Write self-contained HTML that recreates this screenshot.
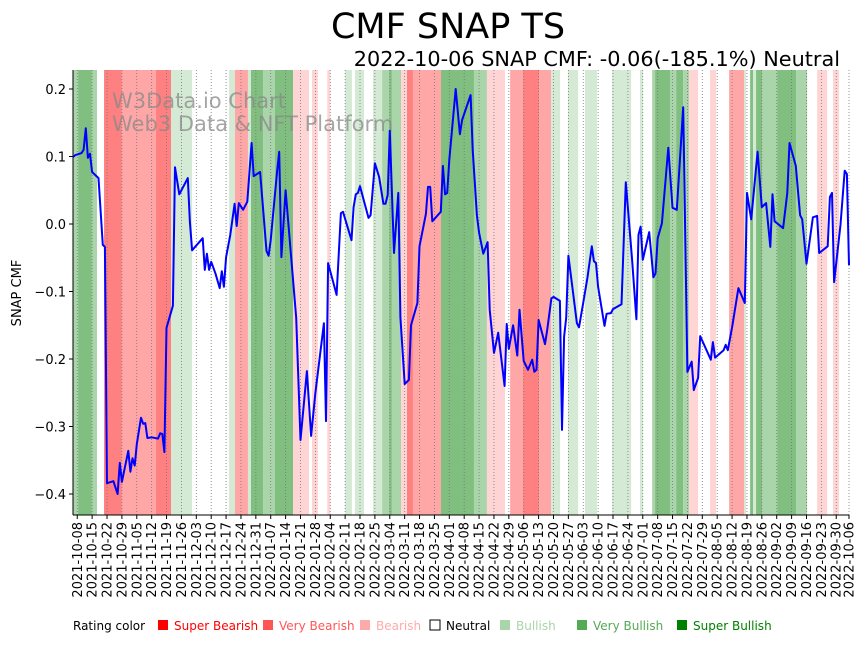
<!DOCTYPE html>
<html><head><meta charset="utf-8"><style>
body{margin:0;background:#fff;font-family:"Liberation Sans","DejaVu Sans",sans-serif}
svg text{font-family:"DejaVu Sans","Liberation Sans",sans-serif}
</style></head><body>
<svg id="c" width="867" height="641" xmlns="http://www.w3.org/2000/svg"></svg>
<script>
const dayOffsets=[0,1,4,5,6,7,8,9,12,14,15,16,19,21,22,23,26,27,28,29,30,32,33,34,35,37,40,41,42,43,44,47,48,50,54,55,56,61,62,63,64,65,67,69,70,71,72,74,76,77,78,80,82,84,85,88,91,92,93,96,97,98,100,105,107,110,112,114,118,119,120,124,126,127,131,132,133,134,135,139,140,142,144,146,147,148,149,151,153,154,156,158,159,162,163,166,167,168,169,173,174,175,176,177,180,182,183,187,188,190,191,193,195,196,198,200,203,204,205,207,209,210,212,214,216,217,218,219,222,223,225,226,229,230,231,232,233,237,238,240,242,244,245,246,247,250,251,253,254,258,260,263,265,266,267,268,271,273,274,275,277,280,282,284,287,289,291,292,294,295,300,301,302,306,307,308,310,313,316,317,319,322,324,326,328,329,330,334,336,337,340,342,343,345,348,350,351,355,356,357,358,361,363,364,365];
const cmfValues=[0.099,0.102,0.105,0.110,0.142,0.098,0.104,0.077,0.068,-0.031,-0.034,-0.384,-0.381,-0.400,-0.354,-0.382,-0.336,-0.367,-0.347,-0.358,-0.326,-0.287,-0.296,-0.295,-0.317,-0.316,-0.318,-0.310,-0.311,-0.338,-0.154,-0.121,0.084,0.044,0.068,0.003,-0.039,-0.021,-0.068,-0.044,-0.068,-0.056,-0.073,-0.095,-0.070,-0.093,-0.049,-0.016,0.030,-0.003,0.031,0.021,0.033,0.120,0.071,0.077,-0.040,-0.047,-0.024,0.078,0.107,-0.049,0.050,-0.139,-0.320,-0.218,-0.314,-0.250,-0.147,-0.292,-0.058,-0.105,0.016,0.018,-0.024,0.025,0.044,0.046,0.056,0.009,0.013,0.090,0.070,0.030,0.030,0.043,0.138,-0.043,0.046,-0.138,-0.237,-0.231,-0.150,-0.117,-0.033,0.015,0.055,0.055,0.004,0.018,0.086,0.044,0.046,0.095,0.200,0.133,0.154,0.191,0.110,0.013,-0.013,-0.044,-0.027,-0.127,-0.191,-0.161,-0.240,-0.148,-0.185,-0.150,-0.195,-0.127,-0.203,-0.216,-0.201,-0.219,-0.216,-0.142,-0.178,-0.158,-0.110,-0.108,-0.114,-0.305,-0.167,-0.139,-0.047,-0.147,-0.153,-0.117,-0.079,-0.033,-0.055,-0.058,-0.093,-0.151,-0.133,-0.132,-0.126,-0.119,0.062,-0.053,-0.141,-0.016,-0.004,-0.053,-0.012,-0.079,-0.073,-0.021,0.001,0.113,0.024,0.021,0.173,-0.219,-0.204,-0.246,-0.228,-0.166,-0.201,-0.175,-0.198,-0.187,-0.179,-0.187,-0.153,-0.095,-0.117,0.046,0.007,0.107,0.025,0.031,-0.034,0.044,0.004,-0.006,0.046,0.120,0.086,0.013,0.007,-0.059,0.010,0.012,-0.043,-0.033,0.040,0.046,-0.086,-0.001,0.079,0.074,-0.061];
const bandStart=[0,2.4,8.9,14.6,23,39,46.1,73.4,76.2,82.3,83.7,89.4,95,103.5,112.4,119.6,128,132.6,141.1,145.4,148.7,150,154.3,157.1,159.9,173.1,188.6,194.7,205.6,211.7,219.2,224.9,232.8,240.8,253.5,266.7,272.4,273.8,280.8,283.7,287,289.8,299.6,308.6,315.7,318.5,319.9,321.3,324.1,331.2,340.1,350,357.5];
const bandEnd=[2.4,8.9,11.3,23,39,46.1,56,76.2,82.3,83.7,89.4,95,103.5,111,115.2,121,131.2,136.9,145.4,148.7,150,154.3,157.1,159.9,173.1,188.6,194.7,203.2,211.7,219.2,224.9,229.1,237.6,246.5,262.5,268.1,273.8,280.8,283.7,287,289.8,294,302.5,315.7,316.6,319.9,321.3,324.1,331.2,340.1,345.3,354.7,360.3];
const bandLevel=[2,3,2,-3,-2,-3,1,1,-2,1,3,2,3,-1,-1,-1,1,1,1,2,3,2,-1,-3,-2,3,2,-1,-2,-3,-2,1,1,1,1,1,2,3,2,3,2,-1,-1,-2,1,3,1,3,2,3,2,-1,-1];
const yTicks=[0.2,0.1,0.0,-0.1,-0.2,-0.3,-0.4];
const yTickLabels=["0.2","0.1","0.0","−0.1","−0.2","−0.3","−0.4"];
const startDate="2021-10-06", firstTickDay=2, lastDay=365;

const L=73,R=849,T=70,B=515;
const x=d=>L+d*(R-L)/lastDay;
const y=v=>224-v*675;
const svg=document.getElementById('c');
const NS='http://www.w3.org/2000/svg';
function mk(tag,attrs,parent){const e=document.createElementNS(NS,tag);for(const k in attrs)e.setAttribute(k,attrs[k]);(parent||svg).appendChild(e);return e;}
const colors={'-3':'#ff8080','-2':'#ffa6a6','-1':'#ffd4d4','1':'#d5ead5','2':'#aad4aa','3':'#80bf80'};
const gb=mk('g',{});


bandStart.forEach((s,i)=>{
  const r=mk('rect',{x:x(s),y:T,width:x(bandEnd[i])-x(s),height:B-T,fill:colors[bandLevel[i]]},gb);
  
  
});
function fmt(d){const t=new Date(startDate+'T00:00:00Z');t.setUTCDate(t.getUTCDate()+d);return t.toISOString().slice(0,10);}
const tickDays=[];for(let d=firstTickDay;d<lastDay-3;d+=7)tickDays.push(d);tickDays.push(lastDay);
const gx=mk('g',{});


tickDays.forEach(d=>{
  const X=x(d);
  const gl=mk('line',{x1:X,x2:X,y1:T,y2:B,stroke:'#777','stroke-width':0.8,'stroke-dasharray':'1,2'},gx);
  
  
  mk('line',{x1:X,x2:X,y1:B,y2:B+4,stroke:'#000','stroke-width':1},gx);
  const t=mk('text',{x:0,y:0,transform:`translate(${X+4.5},${B+7}) rotate(-90)`,'text-anchor':'end','font-size':'13'},gx);
  t.textContent=fmt(d);
  
  
});
const gy=mk('g',{});


yTicks.forEach((v,i)=>{
  mk('line',{x1:L-4,x2:L,y1:y(v),y2:y(v),stroke:'#000'},gy);
  const t=mk('text',{x:L-7,y:y(v)+5,'text-anchor':'end','font-size':'13'},gy);
  t.textContent=yTickLabels[i];
  
  
});
mk('line',{x1:L,x2:L,y1:T,y2:B,stroke:'#000','stroke-width':1});
mk('line',{x1:L,x2:R,y1:B,y2:B,stroke:'#000','stroke-width':1});
const yl=mk('text',{x:0,y:0,transform:'translate(21,293) rotate(-90)','text-anchor':'middle','font-size':'13'});
yl.textContent='SNAP CMF';


const w1=mk('text',{x:112,y:108,'font-size':'21',fill:'#888','fill-opacity':'0.75'});w1.textContent='W3Data.io Chart';


const w2=mk('text',{x:112,y:131,'font-size':'21',fill:'#888','fill-opacity':'0.75'});w2.textContent='Web3 Data & NFT Platform';


const pts=dayOffsets.map((d,i)=>x(d).toFixed(1)+','+y(cmfValues[i]).toFixed(1)).join(' ');
const pl=mk('polyline',{points:pts,fill:'none',stroke:'#0000ff','stroke-width':2,'stroke-linejoin':'round'});


const t1=mk('text',{x:448,y:38,'text-anchor':'middle','font-size':'35'});t1.textContent='CMF SNAP TS';


const t2=mk('text',{x:840,y:66,'text-anchor':'end','font-size':'20.8'});t2.textContent='2022-10-06 SNAP CMF: -0.06(-185.1%) Neutral';


const lg=mk('g',{});


const lt=mk('text',{x:73,y:630,'font-size':'12'},lg);lt.textContent='Rating color';
const legNames=['Super Bearish','Very Bearish','Bearish','Neutral','Bullish','Very Bullish','Super Bullish'];
const legColors=['#ff0000','#ff5555','#ffaaaa','#ffffff','#aad4aa','#55aa55','#008000'];
const legX=[158,263,360,430,500,577,677];
legNames.forEach((n,i)=>{
  const e=mk('g',{},lg);
  
  
  mk('rect',{x:legX[i],y:620,width:10,height:10,fill:legColors[i],stroke:i==3?'#000':'none','stroke-width':1},e);
  const t=mk('text',{x:legX[i]+16,y:630,'font-size':'12',fill:i==3?'#000':legColors[i]},e);t.textContent=n;
});
</script>
</body></html>
